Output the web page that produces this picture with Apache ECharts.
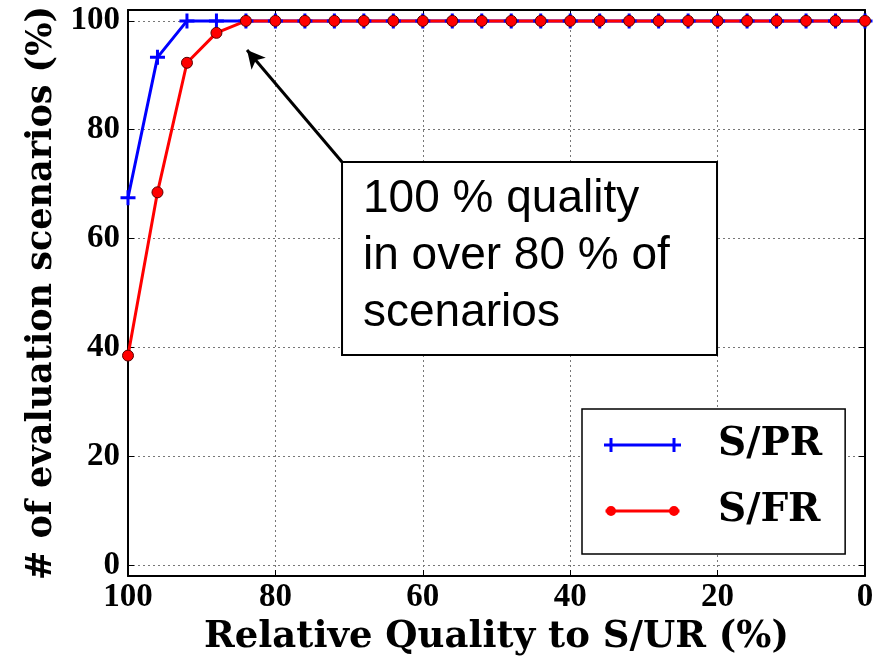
<!DOCTYPE html>
<html style="height: 100%">
<head>
<meta charset="utf-8">
<script type="text/javascript" src="https://cdn.jsdelivr.net/npm/echarts@6/dist/echarts.min.js"></script>
</head>
<body style="height: 100%; margin: 0; background: #fff">
<div id="container" style="width: 883px; height: 657px"></div>
<script type="text/javascript">
// x values (relative quality, %), plotted from 100 down to 0
var quality = [100, 96, 92, 88, 84, 80, 76, 72, 68, 64, 60, 56, 52, 48, 44, 40, 36, 32, 28, 24, 20, 16, 12, 8, 4, 0];
// % of evaluation scenarios
var spr = [67.5, 93.3, 100, 100, 100, 100, 100, 100, 100, 100, 100, 100, 100, 100, 100, 100, 100, 100, 100, 100, 100, 100, 100, 100, 100, 100];
var sfr = [38.5, 68.5, 92.3, 97.8, 100, 100, 100, 100, 100, 100, 100, 100, 100, 100, 100, 100, 100, 100, 100, 100, 100, 100, 100, 100, 100, 100];
var yTicks = [0, 20, 40, 60, 80, 100];
var seriesNames = ['S/PR', 'S/FR'];
// annotation: arrow from box corner to the point where S/FR reaches 100
var noteFrom = [70.96, 74.07];
var noteTo = [83.85, 94.65];
var noteText = '100 % quality\nin over 80 % of\nscenarios';

function pairs(ys) {
    return quality.map(function (x, i) { return [x, ys[i]]; });
}

var tickStyle = { fontFamily: 'Liberation Serif', fontWeight: 'bold', fontSize: 33, color: '#000' };
var nameStyle = { fontFamily: 'DejaVu Serif', fontWeight: 'bold', fontSize: 37, color: '#000' };
var frame = { show: true, onZero: false, lineStyle: { color: '#000', width: 2 } };
var ticks = { show: true, inside: true, length: 6, lineStyle: { color: '#000', width: 1 } };
var grid = { show: true, lineStyle: { color: '#777', width: 1, type: [2, 3] } };

var plus = 'path://M6,0H9V15H6Z M0,6H15V9H0Z';
// legend icons: line with a marker at each end (both 77 x 14 boxes)
var plusIcon = 'path://M0,5.5H77V8.5H0Z M5.5,0H8.5V14H5.5Z M68.5,0H71.5V14H68.5Z';
var dotIcon = 'path://M0,0H0.01V0.01Z M76.99,13.99H77V14H76.99Z M1.5,5.5H75.5V8.5H1.5Z ' +
    'M2,7A5,5,0,1,1,12,7A5,5,0,1,1,2,7Z M65,7A5,5,0,1,1,75,7A5,5,0,1,1,65,7Z';

var myChart = echarts.init(document.getElementById('container'));

var option = {
    backgroundColor: '#fff',
    animation: false,
    grid: { left: 128, right: 18, top: 10, bottom: 81, outerBoundsMode: 'none' },
    xAxis: [{
        type: 'value', inverse: true, min: 0, max: 100, interval: 20, position: 'bottom',
        axisLine: frame, axisTick: ticks, splitLine: grid,
        axisLabel: Object.assign({ margin: 5 }, tickStyle),
        name: 'Relative Quality to S/UR (%)', nameLocation: 'middle', nameGap: 40,
        nameTextStyle: nameStyle
    }, {
        type: 'value', inverse: true, min: 0, max: 100, interval: 20, position: 'top',
        axisLine: frame, axisTick: ticks, splitLine: { show: false }, axisLabel: { show: false }
    }],
    yAxis: [{
        type: 'value', min: -2, max: 102, position: 'left',
        axisLine: frame,
        axisTick: Object.assign({ customValues: yTicks }, ticks),
        splitLine: grid,
        axisLabel: Object.assign({ customValues: yTicks, margin: 8 }, tickStyle),
        name: '# of evaluation scenarios (%)', nameLocation: 'middle', nameGap: 61,
        nameTextStyle: Object.assign({}, nameStyle, { fontSize: 35 })
    }, {
        type: 'value', min: -2, max: 102, position: 'right',
        axisLine: frame,
        axisTick: Object.assign({ customValues: yTicks }, ticks),
        splitLine: { show: false },
        axisLabel: { show: false, customValues: yTicks }
    }],
    legend: {
        orient: 'vertical', left: 582, top: 409,
        padding: [16, 23, 23, 22], itemGap: 26,
        itemWidth: 77, itemHeight: 14,
        borderColor: '#000', borderWidth: 1.5, backgroundColor: '#fff',
        textStyle: Object.assign({ padding: [0, 0, 0, 32], lineHeight: 40 }, nameStyle, { fontSize: 39 }),
        data: [
            { name: seriesNames[0], icon: plusIcon },
            { name: seriesNames[1], icon: dotIcon, itemStyle: { borderWidth: 0 } }
        ]
    },
    series: [{
        name: seriesNames[0], type: 'line', data: pairs(spr), clip: false,
        symbol: plus, symbolSize: 15,
        lineStyle: { color: '#0000ff', width: 3 },
        itemStyle: { color: '#0000ff' },
        markLine: {
            silent: true, symbol: ['none', 'arrow'], symbolSize: [14, 18],
            label: { show: false },
            lineStyle: { color: '#000', width: 3, type: 'solid' },
            data: [[{ coord: noteFrom }, { coord: noteTo }]]
        }
    }, {
        name: seriesNames[1], type: 'line', data: pairs(sfr), clip: false,
        symbol: 'circle', symbolSize: 11,
        lineStyle: { color: '#ff0000', width: 3 },
        itemStyle: { color: '#ff0000', borderColor: '#5a0000', borderWidth: 1 }
    }]
};

myChart.setOption(option);

// annotation box anchored at the arrow tail
var corner = myChart.convertToPixel({ gridIndex: 0 }, noteFrom);
myChart.setOption({
    graphic: [{
        type: 'rect', z: 50,
        shape: { x: corner[0], y: corner[1], width: 375, height: 193 },
        style: { fill: '#fff', stroke: '#000', lineWidth: 2 }
    }, {
        type: 'text', z: 51, x: corner[0] + 21, y: corner[1] + 9,
        style: { text: noteText, font: '46px "Liberation Sans"', lineHeight: 57, fill: '#000' }
    }]
});
</script>
</body>
</html>
